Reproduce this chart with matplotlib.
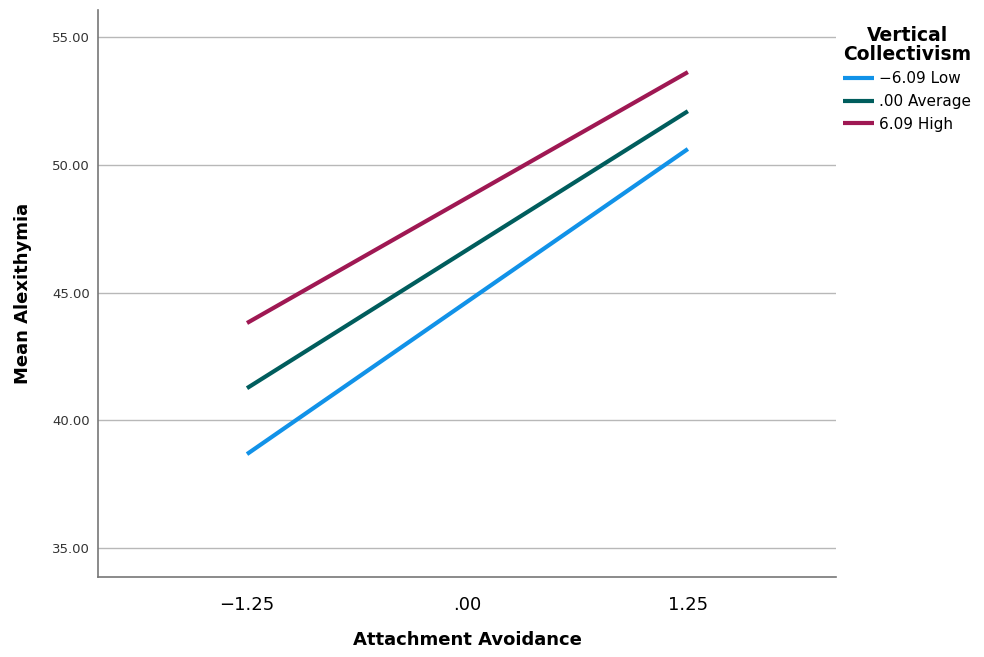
import matplotlib
matplotlib.use('Agg')
import matplotlib.pyplot as plt

# data
avoidance = [-1.25, 1.25]
x_ticks = [-1.25, 0.0, 1.25]
x_labels = ['\u22121.25', '.00', '1.25']
y_ticks = [35, 40, 45, 50, 55]
y_labels = ['35.00', '40.00', '45.00', '50.00', '55.00']

groups = ['\u22126.09 Low', '.00 Average', '6.09 High']
low = [38.68, 50.62]
average = [41.26, 52.10]
high = [43.81, 53.63]
colors = ['#1192e8', '#005d5d', '#9f1853']

plt.rcParams['font.family'] = ['DejaVu Sans']

fig = plt.figure(figsize=(9.84, 6.57), dpi=100)
ax = fig.add_axes([98/984, 1-577/657, (836-98)/984, (577-10)/657])

for vals, lab, c in zip([low, average, high], groups, colors):
    ax.plot(avoidance, vals, color=c, lw=3, label=lab, solid_capstyle='butt')

ax.set_xlim(-2.095, 2.09)
ax.set_ylim(33.87, 56.06)
ax.set_yticks(y_ticks)
ax.set_yticklabels(y_labels, fontsize=9.5, color='#333333')
ax.set_xticks(x_ticks)
ax.set_xticklabels(x_labels, fontsize=13)
ax.tick_params(axis='both', length=0, pad=6)
ax.tick_params(axis='x', pad=14)
ax.yaxis.grid(True, color='#b8b8b8', lw=1)
ax.set_axisbelow(True)
for s in ['top', 'right']:
    ax.spines[s].set_visible(False)
for s in ['left', 'bottom']:
    ax.spines[s].set_color('#777777')
    ax.spines[s].set_linewidth(1.2)

ax.set_xlabel('Attachment Avoidance', fontsize=13, fontweight='bold', labelpad=12)
ax.set_ylabel('Mean Alexithymia', fontsize=13, fontweight='bold', labelpad=14)

leg = ax.legend(title='Vertical\nCollectivism', loc='upper left', bbox_to_anchor=(0.995, 0.99),
                frameon=False, fontsize=11, handlelength=2.0, handletextpad=0.35,
                labelspacing=0.5, borderaxespad=0.3, alignment='center')
leg.get_title().set_fontweight('bold')
leg.get_title().set_fontsize(13.5)
leg.get_title().set_linespacing(0.95)
leg.get_title().set_multialignment('center')

fig.savefig('out.png', dpi=100)
